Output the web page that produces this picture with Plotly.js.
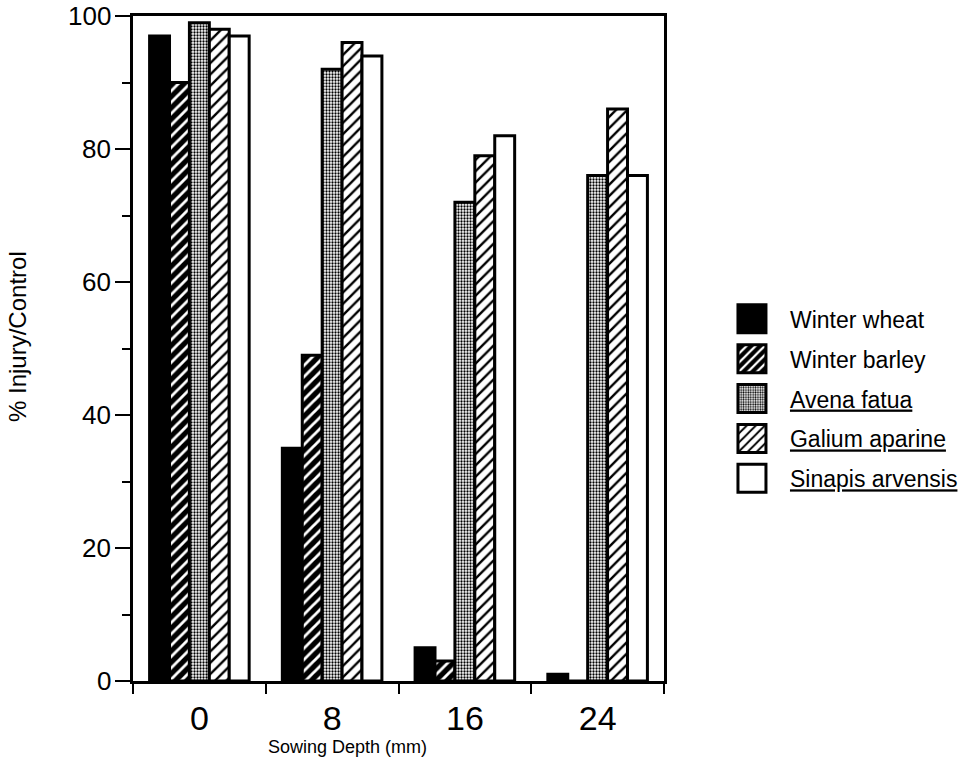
<!DOCTYPE html>
<html>
<head>
<meta charset="utf-8">
<script src="https://cdn.plot.ly/plotly-3.0.1.min.js"></script>
<style>
  html, body { margin: 0; padding: 0; background: #fff; }
  #chart { width: 969px; height: 764px; }
</style>
</head>
<body>
<div id="chart"></div>
<script>
const depths = ['0', '8', '16', '24'];
const seriesNames = ['Winter wheat', 'Winter barley', '<u>Avena fatua</u>', '<u>Galium aparine</u>', '<u>Sinapis arvensis</u>'];
const winterWheat = [97, 35, 5, 1];
const winterBarley = [90, 49, 3, 0];
const avenaFatua = [99, 92, 72, 76];
const galiumAparine = [98, 96, 79, 86];
const sinapisArvensis = [97, 94, 82, 76];
const yTicks = [0, 20, 40, 60, 80, 100];

const FONT = 'Liberation Sans, Arial, Helvetica, sans-serif';
const seriesValues = [winterWheat, winterBarley, avenaFatua, galiumAparine, sinapisArvensis];
const patterns = [
  {shape: '', bgcolor: '#000'},
  {shape: '/', fgcolor: '#fff', bgcolor: '#000', size: 8, solidity: 0.35},
  {shape: '.', fgcolor: '#000', bgcolor: '#fff', size: 3, solidity: 0.45},
  {shape: '/', fgcolor: '#000', bgcolor: '#fff', size: 8, solidity: 0.3},
  {shape: '', bgcolor: '#fff'}
];
const fills = ['#000', '#000', '#fff', '#fff', '#fff'];

const traces = seriesValues.map((vals, i) => ({
  type: 'bar',
  name: seriesNames[i],
  x: depths,
  y: vals,
  legendgroup: 'g' + i,
  marker: {
    color: fills[i],
    pattern: patterns[i],
    line: {color: '#000', width: 3}
  },
  hoverinfo: 'skip'
}));

// y tick labels as annotations so they can sit close to the long ticks
const yTickLabels = yTicks.map(v => ({
  text: String(v),
  xref: 'paper', yref: 'y',
  x: -(133 - 113) / 531, y: v,
  xanchor: 'right', yanchor: 'middle',
  showarrow: false,
  font: {family: FONT, size: 26, color: '#000'}
}));

const layout = {
  width: 969,
  height: 764,
  margin: {l: 133, r: 305, t: 16, b: 83},
  paper_bgcolor: '#fff',
  plot_bgcolor: '#fff',
  barmode: 'group',
  bargap: 0.25,
  bargroupgap: 0,
  font: {family: FONT, color: '#000'},
  showlegend: true,
  legend: {
    x: 1.128, xanchor: 'left',
    y: 0.577, yanchor: 'top',
    font: {family: FONT, size: 23, color: '#000'},
    tracegroupgap: 7,
    bgcolor: 'rgba(0,0,0,0)'
  },
  xaxis: {
    type: 'category',
    tickson: 'boundaries',
    ticks: 'outside',
    ticklen: 10,
    tickwidth: 2,
    tickcolor: '#000',
    showline: true,
    linewidth: 3,
    linecolor: '#000',
    mirror: true,
    showgrid: false,
    zeroline: false,
    tickfont: {family: FONT, size: 34, color: '#000'},
    ticklabelstandoff: 5,
    fixedrange: true
  },
  yaxis: {
    range: [0, 100],
    tickvals: yTicks,
    showticklabels: false,
    ticks: 'outside',
    ticklen: 15,
    tickwidth: 2,
    tickcolor: '#000',
    minor: {dtick: 10, ticks: 'outside', ticklen: 8, tickwidth: 2, tickcolor: '#000', showgrid: false},
    showline: true,
    linewidth: 3,
    linecolor: '#000',
    mirror: true,
    showgrid: false,
    zeroline: false,
    fixedrange: true
  },
  annotations: yTickLabels.concat([
    {
      text: 'Sowing Depth (mm)',
      xref: 'paper', yref: 'paper',
      x: (347 - 133) / 531, y: -(747 - 681) / 665,
      xanchor: 'center', yanchor: 'middle',
      showarrow: false,
      font: {family: FONT, size: 18, color: '#000'}
    },
    {
      text: '% Injury/Control',
      xref: 'paper', yref: 'paper',
      x: -(133 - 17) / 531, y: (681 - 337) / 665,
      xanchor: 'center', yanchor: 'middle',
      textangle: -90,
      showarrow: false,
      font: {family: FONT, size: 24, color: '#000'}
    }
  ])
};

Plotly.newPlot('chart', traces, layout, {displayModeBar: false, staticPlot: true}).then(() => {
  const root = document.getElementById('chart');
  root.querySelectorAll('.legend .scrollbox').forEach(el => el.removeAttribute('clip-path'));
  root.querySelectorAll('.legend').forEach(el => el.removeAttribute('clip-path'));
  // enlarge legend swatches to match the reference's square boxes
  root.querySelectorAll('.legend .traces').forEach(tr => {
    tr.querySelectorAll('.legendpoints path').forEach(p => {
      p.setAttribute('d', 'M14,14H-14V-14H14Z');
    });
    const t = tr.querySelector('.legendtext');
    if (t) {
      const x = parseFloat(t.getAttribute('x') || '0');
      t.setAttribute('x', x + 18);
      t.querySelectorAll('tspan[x]').forEach(s => s.setAttribute('x', parseFloat(s.getAttribute('x')) + 18));
    }
  });
});
</script>
</body>
</html>
